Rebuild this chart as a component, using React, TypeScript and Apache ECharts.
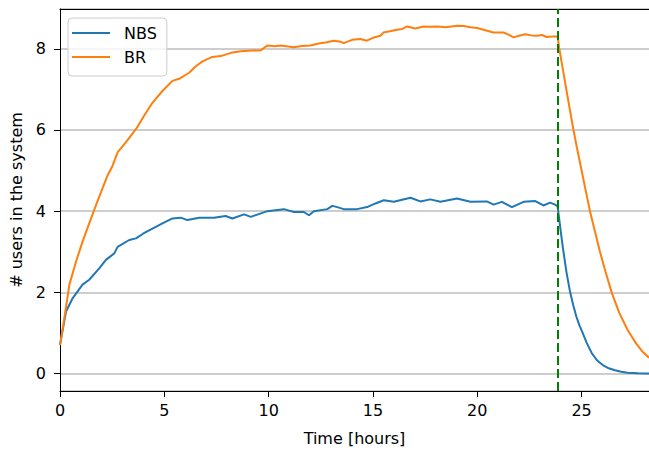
import React, { useEffect, useRef } from "react";
import * as echarts from "echarts";

// ---- data ----
const nbsTime = [
  0, 0.29, 0.61, 1.08, 1.4, 1.88, 2.2, 2.6, 2.76, 3.32, 3.64, 4.0, 4.43, 4.91, 5.39, 5.79, 6.1, 6.67,
  7.38, 7.94, 8.26, 8.82, 9.14, 9.94, 10.73, 11.21, 11.69, 11.93, 12.17, 12.81, 13.05, 13.29, 13.6,
  14.24, 14.72, 15.12, 15.52, 16.0, 16.8, 17.27, 17.75, 18.23, 19.03, 19.67, 20.46, 20.78, 21.18,
  21.66, 22.22, 22.78, 23.17, 23.49, 23.73, 23.85,
  23.89, 24.0, 24.13, 24.28, 24.45, 24.6, 24.75, 24.9, 25.05, 25.25, 25.49, 25.75, 26.04, 26.3,
  26.6, 26.9, 27.2, 27.7, 28.23,
];
const nbsValues = [
  0.7, 1.53, 1.86, 2.19, 2.31, 2.59, 2.8, 2.96, 3.12, 3.29, 3.33, 3.45, 3.57, 3.7, 3.82, 3.84, 3.78, 3.84,
  3.84, 3.88, 3.82, 3.92, 3.86, 4.0, 4.05, 3.98, 3.98, 3.9, 4.0, 4.05, 4.13, 4.1, 4.05,
  4.05, 4.1, 4.19, 4.27, 4.23, 4.33, 4.24, 4.29, 4.23, 4.31, 4.23, 4.24, 4.16, 4.23,
  4.1, 4.23, 4.25, 4.14, 4.21, 4.16, 4.12,
  3.95, 3.5, 3.0, 2.48, 2.0, 1.68, 1.4, 1.18, 1.0, 0.75, 0.5, 0.32, 0.2, 0.13,
  0.08, 0.045, 0.02, 0.005, 0.0,
];

const brTime = [
  0, 0.21, 0.45, 0.77, 1.08, 1.4, 1.72, 2.28, 2.52, 2.76, 3.16, 3.64, 4.03, 4.43, 4.91, 5.39, 5.71,
  6.19, 6.51, 6.83, 7.3, 7.7, 8.2, 8.66, 9.2, 9.62, 9.94, 10.3, 10.57, 11.2, 11.6, 12.0, 12.4, 12.8,
  13.1, 13.4, 13.6, 14.0, 14.4, 14.7, 15.0, 15.36, 15.5, 15.8, 16.16, 16.4, 16.64, 17.03, 17.43,
  17.75, 18.07, 18.5, 19.03, 19.35, 19.67, 20.0, 20.3, 20.78, 21.26, 21.5, 21.74, 22.0, 22.3, 22.6,
  22.86, 23.1, 23.33, 23.6, 23.85,
  23.93, 24.1, 24.26, 24.43, 24.61, 24.8, 25.0, 25.2, 25.4, 25.64, 25.88, 26.15, 26.44, 26.8,
  27.2, 27.6, 27.9, 28.23,
];
const brValues = [
  0.7, 1.37, 2.19, 2.76, 3.25, 3.7, 4.14, 4.88, 5.12, 5.45, 5.7, 6.02, 6.35, 6.67, 6.96, 7.21, 7.26,
  7.41, 7.57, 7.69, 7.8, 7.82, 7.9, 7.94, 7.96, 7.96, 8.08, 8.06, 8.08, 8.04, 8.07, 8.08, 8.13, 8.16,
  8.2, 8.18, 8.14, 8.22, 8.24, 8.2, 8.27, 8.32, 8.4, 8.43, 8.47, 8.49, 8.55, 8.5, 8.55,
  8.54, 8.55, 8.53, 8.57, 8.56, 8.53, 8.51, 8.47, 8.4, 8.4, 8.35, 8.28, 8.32, 8.36, 8.33,
  8.32, 8.34, 8.29, 8.3, 8.3,
  8.0, 7.5, 7.02, 6.52, 6.0, 5.5, 5.0, 4.5, 4.0, 3.5, 3.0, 2.5, 2.0, 1.5,
  1.08, 0.75, 0.55, 0.39,
];

const seriesNames = ["NBS", "BR"];
const seriesColors = ["#1f77b4", "#ff7f0e"];
const cutoffTime = 23.85;
const xTicks = [0, 5, 10, 15, 20, 25];
const yTicks = [0, 2, 4, 6, 8];

const FONT = "DejaVu Sans";

export default function App() {
  const ref = useRef<HTMLDivElement>(null);
  useEffect(() => {
    if (!ref.current) return;
    const chart = echarts.init(ref.current, undefined, { renderer: "svg" });
    const mk = (t: number[], v: number[]) => t.map((x, i) => [x, v[i]]);
    const option: any = {
      animation: false,
      textStyle: { fontFamily: FONT },
      grid: { left: 59, right: 0, top: 9, bottom: 58, containLabel: false },
      legend: {
        show: true,
        orient: "vertical",
        left: 68,
        top: 18,
        padding: [7, 10, 11, 4],
        itemGap: 8,
        itemWidth: 38,
        itemHeight: 2,
        icon: "rect",
        borderColor: "#cccccc",
        borderWidth: 1,
        borderRadius: 4,
        backgroundColor: "rgba(255,255,255,0.8)",
        formatter: (name: string) => "{t|" + name + "}",
        textStyle: {
          fontFamily: FONT,
          fontSize: 16,
          color: "#000",
          rich: {
            t: { fontFamily: FONT, fontSize: 16, color: "#000", lineHeight: 20, padding: [0, 0, 0, 9] },
          },
        },
        data: seriesNames,
      },
      xAxis: [
        {
          type: "value",
          min: 0,
          max: 28.23,
          interval: 5,
          name: "Time [hours]",
          nameLocation: "middle",
          nameGap: 39,
          nameTextStyle: { fontFamily: FONT, fontSize: 16, color: "#000" },
          axisLine: { show: true, onZero: false, lineStyle: { color: "#000", width: 1 } },
          axisTick: { show: true, inside: false, length: 6, lineStyle: { color: "#000" } },
          axisLabel: {
            margin: 11,
            fontFamily: FONT,
            fontSize: 16,
            color: "#000",
            showMaxLabel: false,
            formatter: (v: number) => (xTicks.includes(v) ? String(v) : ""),
          },
          splitLine: { show: false },
        },
        {
          type: "value",
          position: "top",
          min: 0,
          max: 28.23,
          interval: 5,
          axisLine: { show: true, onZero: false, lineStyle: { color: "#000", width: 1 } },
          axisTick: { show: false },
          axisLabel: { show: false },
          splitLine: { show: false },
        },
      ],
      yAxis: {
        type: "value",
        min: -0.43,
        max: 8.98,
        splitNumber: 5,
        name: "# users in the system",
        nameLocation: "middle",
        nameGap: 36,
        nameTextStyle: { fontFamily: FONT, fontSize: 16, color: "#000" },
        axisLine: { show: true, onZero: false, lineStyle: { color: "#000", width: 1 } },
        axisTick: { show: true, inside: false, length: 6, lineStyle: { color: "#000" } },
        axisLabel: {
          margin: 14,
          fontFamily: FONT,
          fontSize: 16,
          color: "#000",
          showMinLabel: false,
          showMaxLabel: false,
          formatter: (v: number) => (yTicks.includes(v) ? String(v) : ""),
        },
        splitLine: { show: true, lineStyle: { color: "#bdbdbd", width: 1.5 } },
      },
      series: [
        {
          name: seriesNames[0],
          type: "line",
          showSymbol: false,
          symbol: "none",
          color: seriesColors[0],
          lineStyle: { width: 2, color: seriesColors[0] },
          data: mk(nbsTime, nbsValues),
          z: 2,
        },
        {
          name: seriesNames[1],
          type: "line",
          showSymbol: false,
          symbol: "none",
          color: seriesColors[1],
          lineStyle: { width: 2, color: seriesColors[1] },
          data: mk(brTime, brValues),
          z: 3,
          markLine: {
            silent: true,
            symbol: ["none", "none"],
            label: { show: false },
            lineStyle: { color: "#008000", type: [9, 4], width: 2 },
            data: [{ xAxis: cutoffTime }],
          },
        },
      ],
    };
    chart.setOption(option);
    return () => chart.dispose();
  }, []);
  return (
    <div
      ref={ref}
      style={{ position: "fixed", left: 0, top: 0, width: 649, height: 451, background: "#fff" }}
    />
  );
}
